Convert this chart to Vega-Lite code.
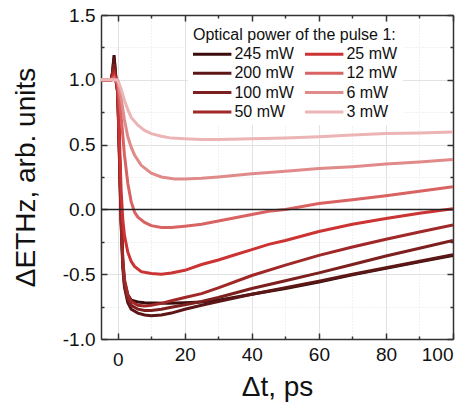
{
 "$schema": "https://vega.github.io/schema/vega-lite/v6.json",
 "width": 352, "height": 324,
 "autosize": "none",
 "padding": {"left": 101, "top": 15, "right": 16, "bottom": 66},
 "config": {"font": "Liberation Sans", "view": {"stroke": null},
   "axis": {"domainColor": "#333", "domainWidth": 1.5, "tickColor": "#333", "tickWidth": 1.5, "labelColor": "#111", "titleColor": "#111", "labelFontSize": 19, "titleFontSize": 28, "titleFontWeight": "normal"}},
 "data": {"values": [
  {"p":"245 mW","t":-5,"v":1.0},{"p":"245 mW","t":-3,"v":1.0},{"p":"245 mW","t":-2,"v":1.0},{"p":"245 mW","t":-1.6,"v":1.05},{"p":"245 mW","t":-1.1,"v":1.19},{"p":"245 mW","t":-0.6,"v":1.03},{"p":"245 mW","t":0,"v":0.92},{"p":"245 mW","t":0.5,"v":0.45},{"p":"245 mW","t":1,"v":-0.05},{"p":"245 mW","t":1.5,"v":-0.4},{"p":"245 mW","t":2,"v":-0.56},{"p":"245 mW","t":3,"v":-0.66},{"p":"245 mW","t":4,"v":-0.7},{"p":"245 mW","t":6,"v":-0.715},{"p":"245 mW","t":8,"v":-0.72},{"p":"245 mW","t":10,"v":-0.722},{"p":"245 mW","t":15,"v":-0.725},{"p":"245 mW","t":20,"v":-0.72},{"p":"245 mW","t":25,"v":-0.715},{"p":"245 mW","t":30,"v":-0.7},{"p":"245 mW","t":40,"v":-0.655},{"p":"245 mW","t":50,"v":-0.61},{"p":"245 mW","t":60,"v":-0.56},{"p":"245 mW","t":70,"v":-0.505},{"p":"245 mW","t":80,"v":-0.455},{"p":"245 mW","t":90,"v":-0.405},{"p":"245 mW","t":100,"v":-0.355},
  {"p":"200 mW","t":-5,"v":1.0},{"p":"200 mW","t":-2,"v":1.0},{"p":"200 mW","t":-1.6,"v":1.05},{"p":"200 mW","t":-1.1,"v":1.17},{"p":"200 mW","t":-0.6,"v":1.02},{"p":"200 mW","t":0,"v":0.9},{"p":"200 mW","t":0.5,"v":0.4},{"p":"200 mW","t":1,"v":-0.1},{"p":"200 mW","t":1.5,"v":-0.45},{"p":"200 mW","t":2,"v":-0.6},{"p":"200 mW","t":3,"v":-0.72},{"p":"200 mW","t":4,"v":-0.77},{"p":"200 mW","t":6,"v":-0.8},{"p":"200 mW","t":8,"v":-0.815},{"p":"200 mW","t":10,"v":-0.82},{"p":"200 mW","t":13,"v":-0.815},{"p":"200 mW","t":16,"v":-0.8},{"p":"200 mW","t":20,"v":-0.77},{"p":"200 mW","t":25,"v":-0.74},{"p":"200 mW","t":30,"v":-0.71},{"p":"200 mW","t":40,"v":-0.655},{"p":"200 mW","t":50,"v":-0.605},{"p":"200 mW","t":60,"v":-0.555},{"p":"200 mW","t":70,"v":-0.5},{"p":"200 mW","t":80,"v":-0.45},{"p":"200 mW","t":90,"v":-0.4},{"p":"200 mW","t":100,"v":-0.35},
  {"p":"100 mW","t":-5,"v":1.0},{"p":"100 mW","t":-2,"v":1.0},{"p":"100 mW","t":-1.6,"v":1.04},{"p":"100 mW","t":-1.1,"v":1.12},{"p":"100 mW","t":-0.6,"v":1.01},{"p":"100 mW","t":0,"v":0.9},{"p":"100 mW","t":0.5,"v":0.4},{"p":"100 mW","t":1,"v":-0.1},{"p":"100 mW","t":1.5,"v":-0.42},{"p":"100 mW","t":2,"v":-0.58},{"p":"100 mW","t":3,"v":-0.69},{"p":"100 mW","t":4,"v":-0.74},{"p":"100 mW","t":6,"v":-0.77},{"p":"100 mW","t":8,"v":-0.78},{"p":"100 mW","t":10,"v":-0.78},{"p":"100 mW","t":13,"v":-0.77},{"p":"100 mW","t":16,"v":-0.755},{"p":"100 mW","t":20,"v":-0.735},{"p":"100 mW","t":25,"v":-0.71},{"p":"100 mW","t":30,"v":-0.68},{"p":"100 mW","t":40,"v":-0.61},{"p":"100 mW","t":50,"v":-0.55},{"p":"100 mW","t":60,"v":-0.49},{"p":"100 mW","t":70,"v":-0.425},{"p":"100 mW","t":80,"v":-0.36},{"p":"100 mW","t":90,"v":-0.3},{"p":"100 mW","t":100,"v":-0.24},
  {"p":"50 mW","t":-5,"v":1.0},{"p":"50 mW","t":-2,"v":1.0},{"p":"50 mW","t":-1.6,"v":1.03},{"p":"50 mW","t":-1.1,"v":1.08},{"p":"50 mW","t":-0.6,"v":1.0},{"p":"50 mW","t":0,"v":0.9},{"p":"50 mW","t":0.5,"v":0.45},{"p":"50 mW","t":1,"v":-0.05},{"p":"50 mW","t":1.5,"v":-0.38},{"p":"50 mW","t":2,"v":-0.54},{"p":"50 mW","t":3,"v":-0.66},{"p":"50 mW","t":4,"v":-0.71},{"p":"50 mW","t":6,"v":-0.74},{"p":"50 mW","t":8,"v":-0.745},{"p":"50 mW","t":10,"v":-0.74},{"p":"50 mW","t":13,"v":-0.725},{"p":"50 mW","t":16,"v":-0.705},{"p":"50 mW","t":20,"v":-0.68},{"p":"50 mW","t":25,"v":-0.65},{"p":"50 mW","t":30,"v":-0.605},{"p":"50 mW","t":40,"v":-0.51},{"p":"50 mW","t":50,"v":-0.43},{"p":"50 mW","t":60,"v":-0.355},{"p":"50 mW","t":70,"v":-0.29},{"p":"50 mW","t":80,"v":-0.23},{"p":"50 mW","t":90,"v":-0.175},{"p":"50 mW","t":100,"v":-0.12},
  {"p":"25 mW","t":-5,"v":1.0},{"p":"25 mW","t":-2,"v":1.0},{"p":"25 mW","t":-1.1,"v":1.04},{"p":"25 mW","t":-0.5,"v":1.0},{"p":"25 mW","t":0,"v":0.93},{"p":"25 mW","t":0.5,"v":0.55},{"p":"25 mW","t":1,"v":0.15},{"p":"25 mW","t":1.5,"v":-0.08},{"p":"25 mW","t":2,"v":-0.2},{"p":"25 mW","t":3,"v":-0.33},{"p":"25 mW","t":4,"v":-0.4},{"p":"25 mW","t":5,"v":-0.44},{"p":"25 mW","t":7,"v":-0.48},{"p":"25 mW","t":10,"v":-0.495},{"p":"25 mW","t":13,"v":-0.5},{"p":"25 mW","t":16,"v":-0.49},{"p":"25 mW","t":20,"v":-0.47},{"p":"25 mW","t":25,"v":-0.425},{"p":"25 mW","t":30,"v":-0.39},{"p":"25 mW","t":35,"v":-0.35},{"p":"25 mW","t":40,"v":-0.31},{"p":"25 mW","t":45,"v":-0.27},{"p":"25 mW","t":50,"v":-0.24},{"p":"25 mW","t":60,"v":-0.17},{"p":"25 mW","t":70,"v":-0.115},{"p":"25 mW","t":80,"v":-0.07},{"p":"25 mW","t":90,"v":-0.03},{"p":"25 mW","t":100,"v":0.005},
  {"p":"12 mW","t":-5,"v":1.0},{"p":"12 mW","t":-2,"v":1.0},{"p":"12 mW","t":-1.1,"v":1.02},{"p":"12 mW","t":0,"v":0.97},{"p":"12 mW","t":1,"v":0.72},{"p":"12 mW","t":2,"v":0.42},{"p":"12 mW","t":3,"v":0.2},{"p":"12 mW","t":4,"v":0.06},{"p":"12 mW","t":5,"v":-0.02},{"p":"12 mW","t":6,"v":-0.06},{"p":"12 mW","t":8,"v":-0.1},{"p":"12 mW","t":10,"v":-0.125},{"p":"12 mW","t":13,"v":-0.14},{"p":"12 mW","t":16,"v":-0.14},{"p":"12 mW","t":20,"v":-0.13},{"p":"12 mW","t":25,"v":-0.115},{"p":"12 mW","t":30,"v":-0.09},{"p":"12 mW","t":35,"v":-0.065},{"p":"12 mW","t":40,"v":-0.04},{"p":"12 mW","t":45,"v":-0.015},{"p":"12 mW","t":50,"v":0.0},{"p":"12 mW","t":60,"v":0.045},{"p":"12 mW","t":70,"v":0.075},{"p":"12 mW","t":80,"v":0.105},{"p":"12 mW","t":90,"v":0.14},{"p":"12 mW","t":100,"v":0.175},
  {"p":"6 mW","t":-5,"v":1.0},{"p":"6 mW","t":-1,"v":1.0},{"p":"6 mW","t":0,"v":0.99},{"p":"6 mW","t":1,"v":0.86},{"p":"6 mW","t":2,"v":0.69},{"p":"6 mW","t":3,"v":0.56},{"p":"6 mW","t":4,"v":0.48},{"p":"6 mW","t":5,"v":0.42},{"p":"6 mW","t":7,"v":0.34},{"p":"6 mW","t":10,"v":0.28},{"p":"6 mW","t":13,"v":0.25},{"p":"6 mW","t":17,"v":0.235},{"p":"6 mW","t":20,"v":0.235},{"p":"6 mW","t":25,"v":0.24},{"p":"6 mW","t":30,"v":0.25},{"p":"6 mW","t":40,"v":0.275},{"p":"6 mW","t":50,"v":0.295},{"p":"6 mW","t":60,"v":0.315},{"p":"6 mW","t":70,"v":0.33},{"p":"6 mW","t":80,"v":0.35},{"p":"6 mW","t":90,"v":0.365},{"p":"6 mW","t":100,"v":0.385},
  {"p":"3 mW","t":-5,"v":1.0},{"p":"3 mW","t":-1,"v":1.0},{"p":"3 mW","t":0,"v":1.0},{"p":"3 mW","t":1,"v":0.93},{"p":"3 mW","t":2,"v":0.84},{"p":"3 mW","t":3,"v":0.77},{"p":"3 mW","t":4,"v":0.71},{"p":"3 mW","t":6,"v":0.65},{"p":"3 mW","t":8,"v":0.61},{"p":"3 mW","t":10,"v":0.585},{"p":"3 mW","t":13,"v":0.565},{"p":"3 mW","t":16,"v":0.55},{"p":"3 mW","t":20,"v":0.545},{"p":"3 mW","t":25,"v":0.54},{"p":"3 mW","t":30,"v":0.54},{"p":"3 mW","t":40,"v":0.545},{"p":"3 mW","t":50,"v":0.55},{"p":"3 mW","t":60,"v":0.56},{"p":"3 mW","t":70,"v":0.575},{"p":"3 mW","t":80,"v":0.585},{"p":"3 mW","t":90,"v":0.59},{"p":"3 mW","t":100,"v":0.597}
 ]},
 "layer": [
  {"mark": {"type": "line", "strokeWidth": 3, "clip": true},
   "encoding": {
    "x": {"field": "t", "type": "quantitative", "scale": {"domain": [-5, 100], "nice": false},
      "axis": {"orient": "bottom", "values": [0,10,20,30,40,50,60,70,80,90,100], "title": "Δt, ps", "titlePadding": 4,
        "labelExpr": "datum.value % 20 === 0 ? datum.label : ''",
        "tickSize": {"condition": {"test": "datum.value % 20 === 0", "value": -6}, "value": -3},
        "labelPadding": {"condition": {"test": "datum.value === 0", "value": 17}, "value": 12},
        "grid": true, "gridColor": "#e2e2e2", "gridWidth": 1,
        "gridDash": {"condition": {"test": "datum.value % 20 === 0", "value": []}, "value": [1, 2]}}},
    "y": {"field": "v", "type": "quantitative", "scale": {"domain": [-1, 1.5], "nice": false},
      "axis": {"orient": "left", "values": [-1,-0.75,-0.5,-0.25,0,0.25,0.5,0.75,1,1.25,1.5], "title": "ΔETHz, arb. units", "titlePadding": 22,
        "labelExpr": "abs(datum.value*2 - round(datum.value*2)) < 0.001 ? replace(format(datum.value, '.1f'), '\u2212', '-') : ''",
        "tickSize": {"condition": {"test": "abs(datum.value*2 - round(datum.value*2)) < 0.001", "value": -6}, "value": -3},
        "labelPadding": 12,
        "grid": true, "gridColor": "#e2e2e2", "gridWidth": 1,
        "gridDash": {"condition": {"test": "abs(datum.value*2 - round(datum.value*2)) < 0.001", "value": []}, "value": [1, 2]}}},
    "color": {"field": "p", "type": "nominal",
      "scale": {"domain": ["245 mW","200 mW","100 mW","50 mW","25 mW","12 mW","6 mW","3 mW"],
                "range": ["#3a0c0c","#5c1616","#7d1f1f","#a02828","#cc3333","#d96262","#e08a8a","#ecb4b4"]},
      "legend": {"orient": "none", "legendX": 87, "legendY": 7, "columns": 2, "fillColor": "white", "padding": 5,
        "title": "Optical power of the pulse 1:", "titleLimit": 300, "titleFontSize": 16, "titleFontWeight": "normal", "titleColor": "#111", "titlePadding": 1.5,
        "labelFontSize": 16, "labelColor": "#111", "symbolType": "M-2.4,0H2.4", "symbolSize": 256, "symbolStrokeWidth": 3,
        "symbolOffset": 9.7, "labelOffset": 12.7, "columnPadding": 5, "rowPadding": 1.3}}
   }},
  {"data": {"values": [{}]},
   "mark": {"type": "rule", "color": "#222", "strokeWidth": 1.5},
   "encoding": {
    "x": {"datum": -5, "type": "quantitative", "axis": {"orient": "top", "values": [0,10,20,30,40,50,60,70,80,90,100], "labels": false, "title": null, "grid": false,
       "tickSize": {"condition": {"test": "datum.value % 20 === 0", "value": -6}, "value": -3}}},
    "x2": {"datum": 100},
    "y": {"datum": 0, "type": "quantitative", "axis": {"orient": "right", "values": [-1,-0.75,-0.5,-0.25,0,0.25,0.5,0.75,1,1.25,1.5], "labels": false, "title": null, "grid": false,
       "tickSize": {"condition": {"test": "abs(datum.value*2 - round(datum.value*2)) < 0.001", "value": -6}, "value": -3}}}
   }}
 ],
 "resolve": {"axis": {"x": "independent", "y": "independent"}}
}
